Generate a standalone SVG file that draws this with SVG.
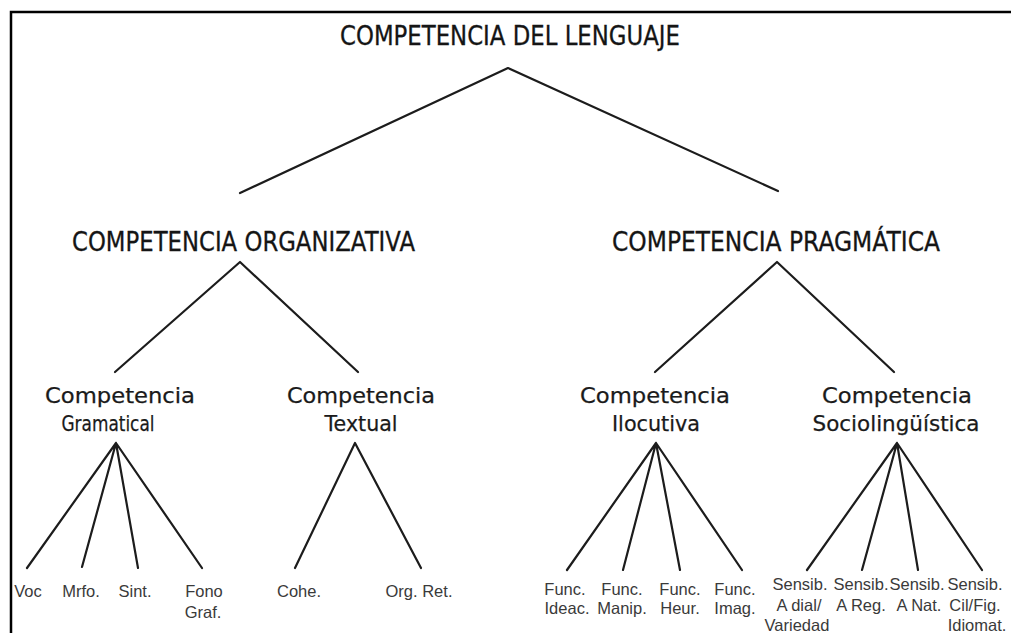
<svg xmlns="http://www.w3.org/2000/svg" width="1011" height="633" viewBox="0 0 1011 633">
<style>
.cap{font-family:"DejaVu Sans","Liberation Sans",sans-serif;font-size:26px;fill:#151515;stroke:#151515;stroke-width:0.3}
.mid{font-family:"DejaVu Sans","Liberation Sans",sans-serif;font-size:21px;fill:#1a1a1a;stroke:#1a1a1a;stroke-width:0.25;text-anchor:middle}
.leaf{font-family:"Liberation Sans",Arial,sans-serif;font-size:16.5px;fill:#3a3a3a;text-anchor:middle}
.ln{stroke:#1c1c1c;stroke-width:2.2;fill:none;stroke-linecap:round;stroke-linejoin:round}
</style>
<rect width="1011" height="633" fill="#fff"/>
<path d="M11 633 V12 H1011" fill="none" stroke="#000" stroke-width="2.5"/>
<g id="connectors">
<path class="ln" d="M240 193 L508 68 L778 191"/>
<path class="ln" d="M115 372 L240 262 L358 372"/>
<path class="ln" d="M655 372 L777 262 L894 372"/>
<path class="ln" d="M27 568 L116 443 L82 567 M116 443 L138 568 M116 443 L202 568"/>
<path class="ln" d="M295 568 L355 443 L421 568"/>
<path class="ln" d="M567 570 L656 443 L623 570 M656 443 L680 570 M656 443 L742 570"/>
<path class="ln" d="M807 570 L897 443 L862 570 M897 443 L918 570 M897 443 L982 570"/>
</g>
<g id="root"><text class="cap" x="340" y="45" textLength="340" lengthAdjust="spacingAndGlyphs">COMPETENCIA DEL LENGUAJE</text></g>
<g id="organizativa"><text class="cap" x="72" y="251" textLength="343" lengthAdjust="spacingAndGlyphs">COMPETENCIA ORGANIZATIVA</text></g>
<g id="pragmatica"><text class="cap" x="612" y="251" textLength="328" lengthAdjust="spacingAndGlyphs">COMPETENCIA PRAGMÁTICA</text></g>
<g id="gramatical"><text class="mid" x="120" y="403" textLength="150" lengthAdjust="spacingAndGlyphs">Competencia</text><text class="mid" x="108" y="431" textLength="93" lengthAdjust="spacingAndGlyphs">Gramatical</text></g>
<g id="textual"><text class="mid" x="361" y="403" textLength="148" lengthAdjust="spacingAndGlyphs">Competencia</text><text class="mid" x="361" y="431" textLength="73" lengthAdjust="spacingAndGlyphs">Textual</text></g>
<g id="ilocutiva"><text class="mid" x="655" y="403" textLength="150" lengthAdjust="spacingAndGlyphs">Competencia</text><text class="mid" x="656" y="431" textLength="88" lengthAdjust="spacingAndGlyphs">Ilocutiva</text></g>
<g id="sociolinguistica"><text class="mid" x="897" y="403" textLength="150" lengthAdjust="spacingAndGlyphs">Competencia</text><text class="mid" x="896" y="431" textLength="167" lengthAdjust="spacingAndGlyphs">Sociolingüística</text></g>
<g id="voc"><text class="leaf" x="28" y="597">Voc</text></g>
<g id="mrfo"><text class="leaf" x="81" y="597">Mrfo.</text></g>
<g id="sint"><text class="leaf" x="135" y="597">Sint.</text></g>
<g id="fono"><text class="leaf" x="204" y="597">Fono</text><text class="leaf" x="203" y="618">Graf.</text></g>
<g id="cohe"><text class="leaf" x="299" y="597">Cohe.</text></g>
<g id="orgret"><text class="leaf" x="419" y="597">Org. Ret.</text></g>
<g id="ideac"><text class="leaf" x="565" y="595">Func.</text><text class="leaf" x="567" y="614">Ideac.</text></g>
<g id="manip"><text class="leaf" x="622" y="595">Func.</text><text class="leaf" x="622" y="614">Manip.</text></g>
<g id="heur"><text class="leaf" x="680" y="595">Func.</text><text class="leaf" x="680" y="614">Heur.</text></g>
<g id="imag"><text class="leaf" x="735" y="595">Func.</text><text class="leaf" x="735" y="614">Imag.</text></g>
<g id="sdial"><text class="leaf" x="800" y="590">Sensib.</text><text class="leaf" x="799" y="611">A dial/</text><text class="leaf" x="797" y="631">Variedad</text></g>
<g id="sreg"><text class="leaf" x="861" y="590">Sensib.</text><text class="leaf" x="861" y="611">A Reg.</text></g>
<g id="snat"><text class="leaf" x="917" y="590">Sensib.</text><text class="leaf" x="919" y="611">A Nat.</text></g>
<g id="scil"><text class="leaf" x="975" y="590">Sensib.</text><text class="leaf" x="975" y="611">Cil/Fig.</text><text class="leaf" x="977" y="631">Idiomat.</text></g>
</svg>
